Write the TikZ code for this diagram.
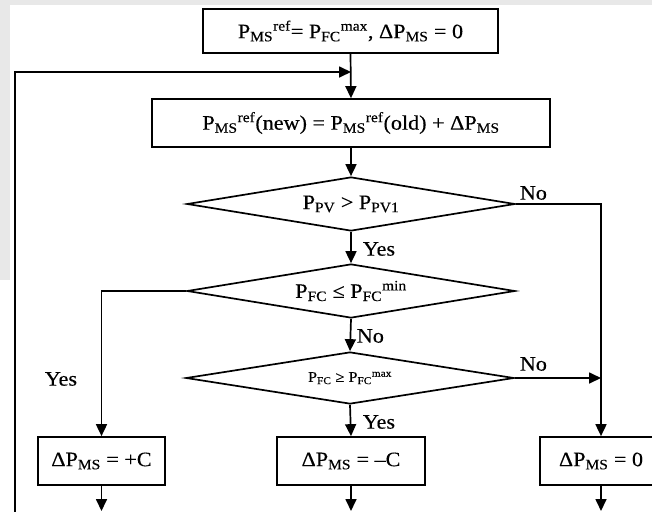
\documentclass[tikz,border=0pt]{standalone}
\usepackage{fontspec}
\setmainfont{Liberation Serif}[FakeBold=0.35]
\usepackage{graphicx}
\usetikzlibrary{shapes.geometric,arrows.meta}
\newcommand\hs[1]{\scalebox{1.08}[1]{#1}}
\begin{document}
\begin{tikzpicture}[x=1pt,y=-1pt,
  line width=1.7pt,
  arr/.style={-{Triangle[length=12pt,width=11pt]}},
  box/.style={draw,rectangle,inner sep=0pt,font=\fontsize{20.5}{23}\selectfont},
  dia/.style={draw,diamond,aspect=6,inner sep=0pt,minimum width=328pt,minimum height=54pt,font=\fontsize{20.5}{23}\selectfont},
  lbl/.style={font=\fontsize{20.5}{23}\selectfont,inner sep=0pt}]
\useasboundingbox (0,0) rectangle (652,511);
\clip (0,0) rectangle (652,511);
\fill[gray!18] (0,0) rectangle (652,5);
\fill[gray!18] (0,0) rectangle (10,280);
% nodes
\node[box,minimum width=295pt,minimum height=44pt] (top) at (350.5,31)
  {\hs{P\textsubscript{MS}\textsuperscript{ref}= P\textsubscript{FC}\textsuperscript{max}, ΔP\textsubscript{MS} = 0}};
\node[box,minimum width=398pt,minimum height=48pt] (upd) at (351,123)
  {\hs{P\textsubscript{MS}\textsuperscript{ref}(new) = P\textsubscript{MS}\textsuperscript{ref}(old) + ΔP\textsubscript{MS}}};
\node[dia] (d1) at (351,204) {\hs{P\textsubscript{PV} > P\textsubscript{PV1}}};
\node[dia] (d2) at (351,291) {\hs{P\textsubscript{FC} ≤ P\textsubscript{FC}\textsuperscript{min}}};
\node[dia,minimum height=52pt,font=\fontsize{15}{17}\selectfont] (d3) at (350,378)
  {\hs{P\textsubscript{FC} ≥ P\textsubscript{FC}\textsuperscript{max}}};
\node[box,minimum width=127pt,minimum height=48pt] (b1) at (101.5,461) {\hs{ΔP\textsubscript{MS} = +C}};
\node[box,minimum width=148pt,minimum height=48pt] (b2) at (351,461) {\hs{ΔP\textsubscript{MS} = –C}};
\node[box,minimum width=122pt,minimum height=48pt] (b3) at (601,461) {\hs{ΔP\textsubscript{MS} = 0}};
% labels
\node[lbl,anchor=west] (y1) at (362,249) {\hs{Yes}};
\node[lbl,anchor=west] (n1) at (519,193) {\hs{No}};
\node[lbl,anchor=west] (n2) at (356,336) {\hs{No}};
\node[lbl,anchor=west] (n3) at (519,364) {\hs{No}};
\node[lbl,anchor=west] (y2) at (44,379) {\hs{Yes}};
\node[lbl,anchor=west] (y3) at (362,422) {\hs{Yes}};
% coordinates
\coordinate (j) at (351,72);
\coordinate (lb) at (15,520);
\coordinate (m) at (601,378);
\coordinate (e1) at (101.5,511);
\coordinate (e2) at (351,511);
\coordinate (e3) at (601,511);
% connectors
\draw[arr] (top.south) -- (upd.north);
\draw[arr] (lb) |- (j);
\draw[arr] (upd.south) -- (d1.north);
\draw[arr] (d1.south) -- (d2.north);
\draw[arr] (d1.east) -| (b3.north);
\draw[arr] (d2.west) -| (b1.north);
\draw[arr] (d2.south) -- (d3.north);
\draw[arr] (d3.east) -- (m);
\draw[arr] (d3.south) -- (b2.north);
\draw[arr] (b1.south) -- (e1);
\draw[arr] (b2.south) -- (e2);
\draw[arr] (b3.south) -- (e3);
\end{tikzpicture}
\end{document}
